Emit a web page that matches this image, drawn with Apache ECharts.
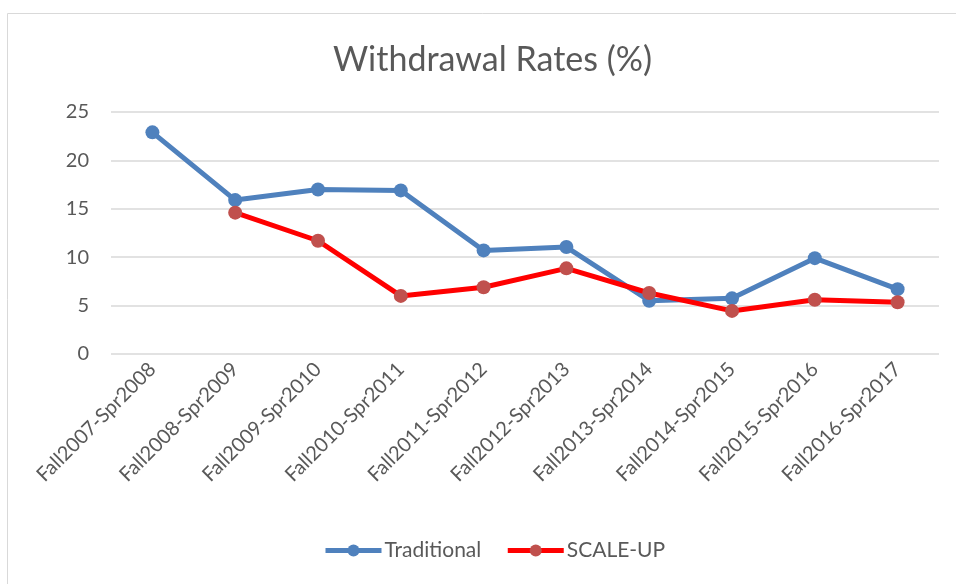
<!DOCTYPE html>
<html><head><meta charset="utf-8">
<script src="https://cdn.jsdelivr.net/npm/echarts@6/dist/echarts.min.js"></script>
<style>html,body{margin:0;padding:0;background:#fff}#c{width:956px;height:584px}</style>
</head><body><div id="c"></div>
<script>
const categories = ["Fall2007-Spr2008","Fall2008-Spr2009","Fall2009-Spr2010","Fall2010-Spr2011","Fall2011-Spr2012","Fall2012-Spr2013","Fall2013-Spr2014","Fall2014-Spr2015","Fall2015-Spr2016","Fall2016-Spr2017"];
const traditional = [22.9, 15.9, 17.0, 16.9, 10.7, 11.05, 5.5, 5.75, 9.9, 6.7];
const scaleUp = [null, 14.6, 11.7, 6.0, 6.9, 8.85, 6.3, 4.45, 5.6, 5.35];
const yTicks = [0, 5, 10, 15, 20, 25];
const font = "Lato";
const chart = echarts.init(document.getElementById('c'));
chart.setOption({
  animation: false,
  graphic: [{type:'rect', shape:{x:7.5,y:13.5,width:1000,height:1000}, style:{fill:'none', stroke:'#d9d9d9', lineWidth:1}}],
  title: {text:'Withdrawal Rates (%)', left:328, top:38, textStyle:{fontFamily:font, fontSize:34, fontWeight:'normal', color:'#595959'}},
  grid: {left:111, right:17, top:112, bottom:230},
  legend: {bottom:18, left:318, itemWidth:56, itemHeight:15, itemGap:24,
    lineStyle:{width:5},
    textStyle:{fontFamily:font, fontSize:21, color:'#595959', padding:[0,0,0,-2]},
    data:['Traditional','SCALE-UP']},
  xAxis: {type:'category', data:categories, boundaryGap:true,
    axisLine:{show:false}, axisTick:{show:false},
    axisLabel:{rotate:45, interval:0, fontFamily:font, fontSize:20, color:'#595959', margin:12}},
  yAxis: {type:'value', min:yTicks[0], max:yTicks[yTicks.length-1], interval:5,
    axisLine:{show:false}, axisTick:{show:false},
    axisLabel:{fontFamily:font, fontSize:20, color:'#595959', margin:22},
    splitLine:{lineStyle:{color:'#d9d9d9', width:1.5}}},
  series: [
    {name:'Traditional', type:'line', data:traditional, symbol:'circle', symbolSize:14,
      lineStyle:{color:'#4f81bd', width:5}, itemStyle:{color:'#4f81bd'}},
    {name:'SCALE-UP', type:'line', data:scaleUp, symbol:'circle', symbolSize:14,
      lineStyle:{color:'#ff0000', width:5}, itemStyle:{color:'#c0504d'}}
  ]
});
</script></body></html>
